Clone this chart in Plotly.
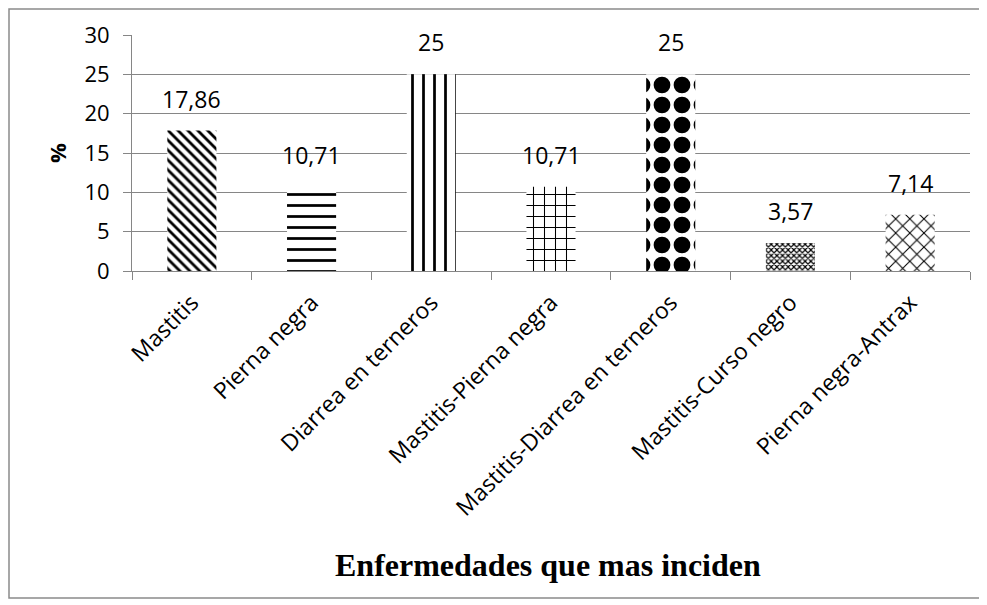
import plotly.graph_objects as go

categories = ["Mastitis", "Pierna negra", "Diarrea en terneros", "Mastitis-Pierna negra",
              "Mastitis-Diarrea en terneros", "Mastitis-Curso negro", "Pierna negra-Antrax"]
values = [17.86, 10.71, 25, 10.71, 25, 3.57, 7.14]
labels = ["17,86", "10,71", "25", "10,71", "25", "3,57", "7,14"]
y_ticks = [0, 5, 10, 15, 20, 25, 30]

pattern_shapes = ["\\", "-", "|", "+", ".", "x", "x"]
pattern_sizes = [7, 11, 11, 11, 20, 4, 10]
pattern_solidity = [0.4, 0.25, 0.25, 0.18, 0.55, 0.5, 0.2]

OFF = 8  # page body margin
W, H = 987 - OFF, 605 - OFF
ml, mr, mt, mb = 132 - OFF, 17, 35 - OFF, 334

fig = go.Figure()
fig.add_trace(go.Bar(
    x=categories, y=values, width=0.41,
    marker=dict(color="white", line=dict(width=0),
                pattern=dict(shape=pattern_shapes, size=pattern_sizes,
                             solidity=pattern_solidity, fgcolor="black", fgopacity=1,
                             bgcolor="white", fillmode="overlay")),
    showlegend=False, hoverinfo="x+y",
))

for c, v, t in zip(categories, values, labels):
    fig.add_annotation(x=c, y=v, text=t, showarrow=False, yanchor="bottom",
                       yshift=14, font=dict(family="Open Sans", size=23, color="black"))

# outer border and axis titles in paper coordinates (screen pixel -> paper)
pw, ph = W - ml - mr, H - mt - mb
def px_x(p): return (p - OFF - ml) / pw
def px_y(p): return (H - mb - (p - OFF)) / ph
fig.add_shape(type="rect", xref="paper", yref="paper",
              x0=px_x(9), x1=px_x(980), y0=px_y(598), y1=px_y(9),
              line=dict(color="#8a8a8a", width=1.5), fillcolor="rgba(0,0,0,0)", layer="below")
fig.add_annotation(xref="paper", yref="paper", x=px_x(548), y=px_y(565),
                   text="<b>Enfermedades que mas inciden</b>", showarrow=False,
                   xanchor="center", yanchor="middle",
                   font=dict(family="Liberation Serif", size=32, color="black"))
fig.add_annotation(xref="paper", yref="paper", x=px_x(57), y=px_y(153),
                   text="<b>%</b>", showarrow=False, textangle=-90,
                   xanchor="center", yanchor="middle",
                   font=dict(family="Open Sans", size=22, color="black"))

fig.update_layout(
    width=W, height=H, margin=dict(l=ml, r=mr, t=mt, b=mb),
    paper_bgcolor="white", plot_bgcolor="white", separators=",.",
    font=dict(family="Open Sans", size=22, color="black"),
    bargap=0.59,
    xaxis=dict(tickangle=-45, tickson="boundaries", ticks="outside", ticklen=8,
               tickcolor="#868686", showline=True, linecolor="#868686", linewidth=1,
               showgrid=False, automargin=False, ticklabelstandoff=8,
               tickfont=dict(family="Open Sans", size=23)),
    yaxis=dict(range=[0, 30], tickvals=y_ticks, ticks="outside", ticklen=8,
               tickcolor="#868686", showline=True, linecolor="#868686", linewidth=1,
               gridcolor="#868686", gridwidth=1, zeroline=False, automargin=False,
               ticklabelstandoff=9,
               tickfont=dict(family="Open Sans", size=22)),
)

fig.write_html("out.html")
